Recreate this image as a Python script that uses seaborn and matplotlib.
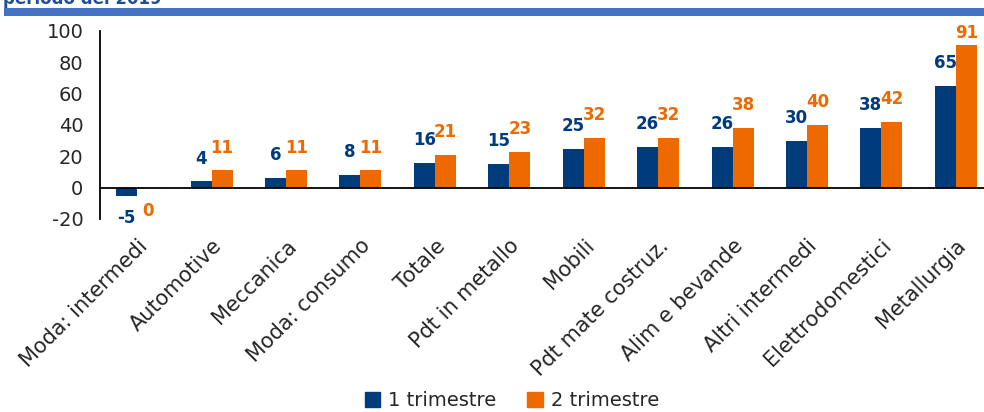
import matplotlib
matplotlib.use("Agg")
import matplotlib.pyplot as plt
import matplotlib.patches as mpatches
import seaborn as sns
import pandas as pd

categories = ["Moda: intermedi", "Automotive", "Meccanica", "Moda: consumo", "Totale",
              "Pdt in metallo", "Mobili", "Pdt mate costruz.", "Alim e bevande",
              "Altri intermedi", "Elettrodomestici", "Metallurgia"]
q1 = [-5, 4, 6, 8, 16, 15, 25, 26, 26, 30, 38, 65]
q2 = [-0.4, 11, 11, 11, 21, 23, 32, 32, 38, 40, 42, 91]
series = ["1 trimestre", "2 trimestre"]
yticks = [-20, 0, 20, 40, 60, 80, 100]

blue = "#003B7C"
orange = "#EE6A00"

data = pd.DataFrame({
    "settore": categories * 2,
    "valore": q1 + q2,
    "serie": [series[0]] * len(q1) + [series[1]] * len(q2),
})

sns.set_style("white")
plt.rcParams["font.family"] = ["DejaVu Sans"]
plt.rcParams["axes.unicode_minus"] = False

fig = plt.figure(figsize=(9.84, 4.12), dpi=100)
ax = fig.add_axes([100 / 984, 1 - 219 / 412, 893 / 984, 188 / 412])

sns.barplot(data=data, x="settore", y="valore", hue="serie", palette=[blue, orange],
            width=0.565, gap=0, ax=ax, legend=False, saturation=1, linewidth=0)

for cont, col in zip(ax.containers, [blue, orange]):
    anns = ax.bar_label(cont, labels=[f"{round(v)}" for v in cont.datavalues], padding=10,
                        color=col, fontsize=12, fontweight="bold")
# the tallest label sits closer to its bar so it stays inside the frame
anns[-1].xyann = (0, 2)

ax.axhline(0, color="black", lw=1.3)
ax.set_ylim(-20, 100)
ax.set_xlim(-0.5, 11.5)
ax.set_yticks(yticks)
ax.set_xlabel("")
ax.set_ylabel("")
for s in ["top", "right", "bottom"]:
    ax.spines[s].set_visible(False)
ax.spines["left"].set_color("black")
ax.spines["left"].set_linewidth(1.3)
ax.tick_params(axis="y", length=0, pad=12, labelsize=14)
ax.tick_params(axis="x", length=0, pad=12, labelsize=15)
plt.setp(ax.get_xticklabels(), rotation=45, ha="right", rotation_mode="anchor")

fig.text(0.003, 1 - 4 / 412, "periodo del 2019", color="#1F4E9A", fontsize=12,
         fontweight="bold", va="baseline")
fig.add_artist(mpatches.Rectangle((4 / 984, 1 - 16 / 412), 980 / 984, 8 / 412,
                                  transform=fig.transFigure, color="#4472C4", lw=0))

handles = [mpatches.Patch(color=blue), mpatches.Patch(color=orange)]
fig.legend(handles, series, loc="center", bbox_to_anchor=(0.52, 0.028), ncol=2,
           frameon=False, fontsize=14, handlelength=0.8, handleheight=0.8,
           handletextpad=0.4, columnspacing=1.6)

fig.savefig("out.png", dpi=100)
